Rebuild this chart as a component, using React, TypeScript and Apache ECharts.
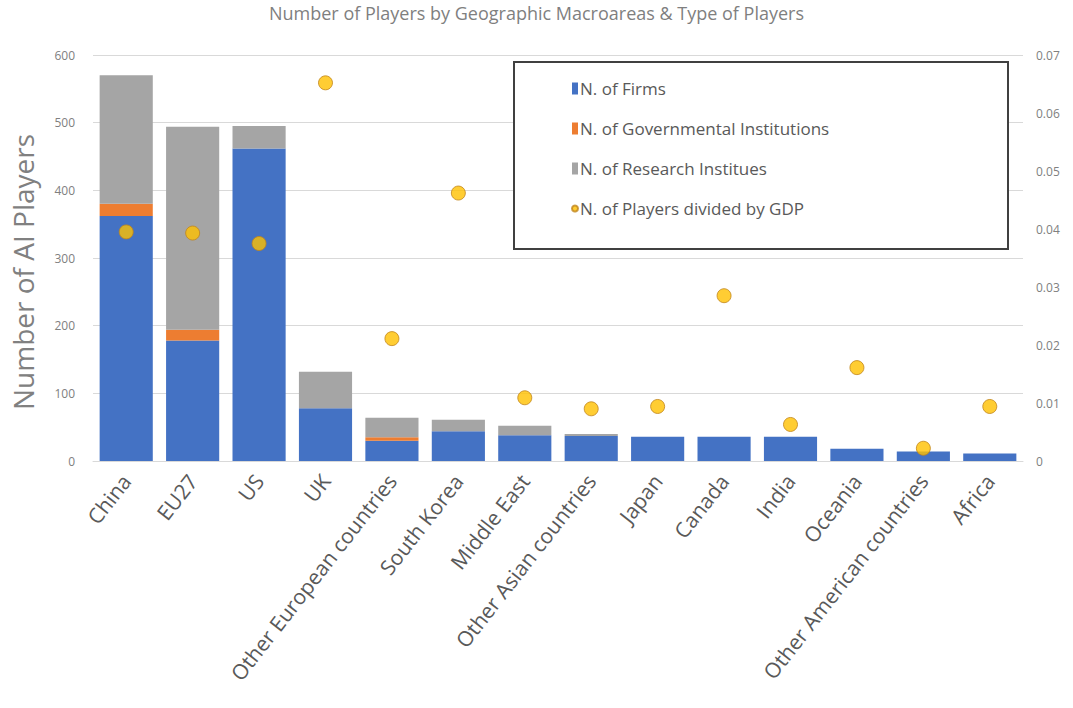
import React, { useEffect, useRef } from "react";
import * as echarts from "echarts";

const categories = [
  "China",
  "EU27",
  "US",
  "UK",
  "Other European countries",
  "South Korea",
  "Middle East",
  "Other Asian countries",
  "Japan",
  "Canada",
  "India",
  "Oceania",
  "Other American countries",
  "Africa",
];
const firms = [362, 178, 462, 78, 30, 44, 38, 37, 36, 36, 36, 18, 14, 11];
const governmental = [18, 16, 0, 0, 5, 0, 0, 0, 0, 0, 0, 0, 0, 0];
const research = [190, 300, 33, 54, 29, 17, 14, 3, 0, 0, 0, 0, 0, 0];
const playersByGdp = [
  0.0395, 0.0393, 0.0375, 0.0652, 0.0211, 0.0462, 0.0109, 0.009, 0.0094, 0.0285, 0.0063, 0.0161,
  0.0022, 0.0094,
];
const leftTicks = { min: 0, max: 600, interval: 100 };
const rightTicks = { min: 0, max: 0.07, interval: 0.01 };

const FONT = "'Open Sans', 'Noto Sans', sans-serif";

export default function App() {
  const ref = useRef<HTMLDivElement>(null);
  useEffect(() => {
    if (!ref.current) return;
    const chart = echarts.init(ref.current, null, { renderer: "svg" });
    chart.setOption({
      animation: false,
      backgroundColor: "#ffffff",
      title: {
        text: "Number of Players by Geographic Macroareas & Type of Players",
        left: "center",
        top: 4,
        padding: 0,
        textStyle: { fontFamily: FONT, fontSize: 18, fontWeight: "normal", color: "#7f7f7f" },
      },
      graphic: [
        {
          type: "rect",
          left: 513,
          top: 61,
          shape: { width: 494, height: 187 },
          style: { fill: "#ffffff", stroke: "#404040", lineWidth: 2 },
          z: 5,
        },
      ],
      legend: {
        orient: "vertical",
        left: 566,
        top: 75,
        itemGap: 23,
        itemWidth: 6,
        itemHeight: 12,
        z: 10,
        textStyle: { fontFamily: FONT, fontSize: 17, color: "#595959", padding: [0, 0, 0, -3] },
        data: [
          { name: "N. of Firms", icon: "rect" },
          { name: "N. of Governmental Institutions", icon: "rect" },
          { name: "N. of Research Institues", icon: "rect" },
          { name: "N. of Players divided by GDP", icon: "circle" },
        ],
      },
      grid: { left: 93, right: 50, top: 55, bottom: 247, containLabel: false },
      xAxis: {
        type: "category",
        data: categories,
        axisLine: { lineStyle: { color: "#d9d9d9", width: 1 } },
        axisTick: { show: false },
        axisLabel: {
          rotate: 52,
          interval: 0,
          margin: 16,
          fontFamily: FONT,
          fontSize: 21,
          color: "#595959",
        },
      },
      yAxis: [
        {
          type: "value",
          ...leftTicks,
          name: "Number of AI Players",
          nameLocation: "middle",
          nameGap: 56,
          nameTextStyle: {
            fontFamily: FONT,
            fontSize: 28,
            color: "#808080",
            padding: [0, 28, 0, 0],
          },
          axisLine: { show: false },
          axisTick: { show: false },
          axisLabel: { margin: 18, fontFamily: FONT, fontSize: 12, color: "#808080" },
          splitLine: { lineStyle: { color: "#d9d9d9", width: 1 } },
        },
        {
          type: "value",
          ...rightTicks,
          position: "right",
          axisLine: { show: false },
          axisTick: { show: false },
          splitLine: { show: false },
          axisLabel: {
            margin: 13,
            fontFamily: FONT,
            fontSize: 12,
            color: "#808080",
            formatter: (v: number) => (v === 0 ? "0" : v.toFixed(2)),
          },
        },
      ],
      series: [
        {
          name: "N. of Firms",
          type: "bar",
          stack: "players",
          data: firms,
          barCategoryGap: "20%",
          itemStyle: { color: "#4472C4" },
        },
        {
          name: "N. of Governmental Institutions",
          type: "bar",
          stack: "players",
          data: governmental,
          itemStyle: { color: "#ED7D31" },
        },
        {
          name: "N. of Research Institues",
          type: "bar",
          stack: "players",
          data: research,
          itemStyle: { color: "#A5A5A5" },
        },
        {
          name: "N. of Players divided by GDP",
          type: "scatter",
          yAxisIndex: 1,
          data: playersByGdp,
          symbolSize: 14,
          z: 4,
          itemStyle: { color: "#FFC000", borderColor: "#C0841A", borderWidth: 1 },
        },
      ],
    });
    return () => chart.dispose();
  }, []);
  return (
    <div
      ref={ref}
      style={{ position: "fixed", left: 0, top: 0, width: 1073, height: 708, background: "#fff" }}
    />
  );
}
